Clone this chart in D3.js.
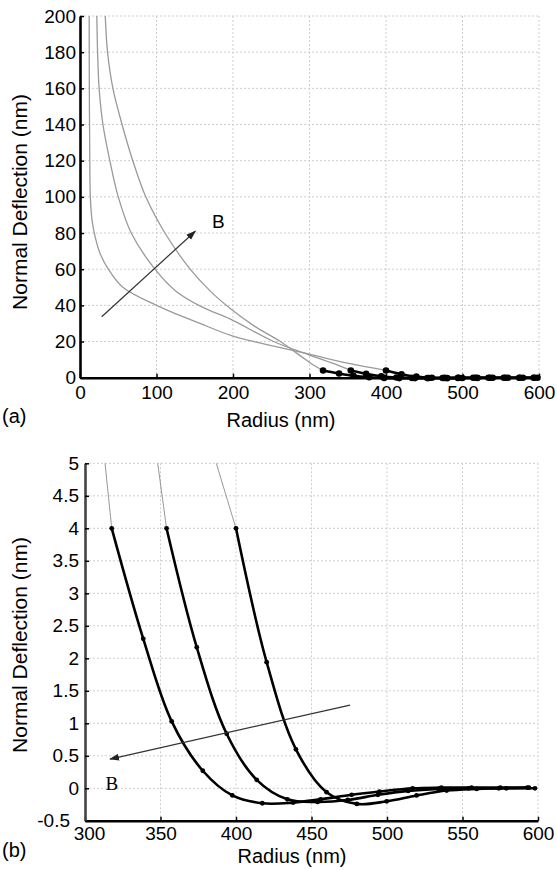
<!DOCTYPE html>
<html>
<head>
<meta charset="utf-8">
<script src="https://cdn.jsdelivr.net/npm/d3@7"></script>
<style>
body{margin:0;background:#fff;}
svg{display:block;font-family:"Liberation Sans",Arial,sans-serif;}
</style>
</head>
<body>
<script>
// gray simulated profiles (radius nm, deflection nm)
var g1R = [12, 12.3, 12.8, 13.5, 15.5, 18.7, 26, 37, 56, 100, 157, 200, 250, 300, 350, 400];
var g1V = [200, 150, 120, 100, 88, 80, 69, 60, 50, 40, 30, 23, 17.8, 13, 8, 4];
var g2R = [22, 23, 25, 30, 39, 50, 67, 98, 125, 160, 196, 253, 300, 330, 354];
var g2V = [200, 180, 160, 140, 120, 100, 80, 60, 48, 39, 32.5, 20, 12.5, 8, 4];
var g3R = [33, 36, 43, 55, 69, 86, 111, 144, 170, 196, 228, 262, 290, 305, 317.7];
var g3V = [200, 180, 160, 140, 120, 100, 80, 60, 48, 38.4, 28.5, 20, 11.5, 7, 4];

// black measured profiles with markers
var aR = [317.7, 338.6, 357.4, 378, 397.6, 417.4, 437.9, 456, 476.6, 495, 517, 536, 556, 575, 593];
var aV = [4, 2.3, 1.03, 0.27, -0.11, -0.23, -0.22, -0.17, -0.1, -0.05, 0, 0.01, 0.01, 0.01, 0.01];
var bR = [354, 374, 393.8, 413.7, 434, 454, 474, 494, 514, 534, 554, 574, 594];
var bV = [4, 2.17, 0.84, 0.13, -0.17, -0.21, -0.18, -0.1, -0.04, -0.01, 0, 0, 0.01];
var cR = [400, 420.3, 439.7, 460, 480, 499.8, 519.6, 539.5, 559.4, 579, 598];
var cV = [4, 1.94, 0.6, -0.06, -0.24, -0.2, -0.11, -0.035, -0.01, 0, 0];

var xTicksA = [0, 100, 200, 300, 400, 500, 600];
var yTicksA = [0, 20, 40, 60, 80, 100, 120, 140, 160, 180, 200];
var xTicksB = [300, 350, 400, 450, 500, 550, 600];
var yTicksB = [-0.5, 0, 0.5, 1, 1.5, 2, 2.5, 3, 3.5, 4, 4.5, 5];

var grayCurves = [[g1R, g1V], [g2R, g2V], [g3R, g3V]];
var blackCurves = [[aR, aV], [bR, bV], [cR, cV]];

function pts(pair){
    return pair[0].map(function(r, i){ return {r: r, v: pair[1][i]}; });
}

var svg = d3.select("body").append("svg").attr("width", 557).attr("height", 870);

var defs = svg.append("defs");
defs.append("marker").attr("id", "head")
    .attr("viewBox", "0 0 10 10").attr("refX", 9).attr("refY", 5)
    .attr("markerWidth", 10).attr("markerHeight", 10)
    .attr("markerUnits", "userSpaceOnUse")
    .attr("orient", "auto")
  .append("path").attr("d", "M0,1.5L10,5L0,8.5Z").attr("fill", "#222");

function drawPanel(opt){
    var x = d3.scaleLinear().domain(opt.xDom).range([opt.left, opt.right]);
    var y = d3.scaleLinear().domain(opt.yDom).range([opt.bottom, opt.top]);
    var g = svg.append("g");

    defs.append("clipPath").attr("id", "clip-" + opt.id)
      .append("rect").attr("x", opt.left).attr("y", opt.top)
      .attr("width", opt.right - opt.left).attr("height", opt.bottom - opt.top);

    // grid
    g.append("g").selectAll("line").data(opt.xTicks.slice(1)).enter().append("line")
        .attr("x1", function(d){ return x(d); }).attr("x2", function(d){ return x(d); })
        .attr("y1", opt.top).attr("y2", opt.bottom)
        .attr("stroke", "#cdcdcd").attr("stroke-width", 1).attr("stroke-dasharray", "2,2");
    g.append("g").selectAll("line").data(opt.yTicks.slice(1)).enter().append("line")
        .attr("y1", function(d){ return y(d); }).attr("y2", function(d){ return y(d); })
        .attr("x1", opt.left).attr("x2", opt.right)
        .attr("stroke", "#cdcdcd").attr("stroke-width", 1).attr("stroke-dasharray", "2,2");

    var line = d3.line().x(function(d){ return x(d.r); }).y(function(d){ return y(d.v); });

    // gray curves
    g.append("g").attr("clip-path", "url(#clip-" + opt.id + ")")
      .selectAll("path").data(grayCurves).enter().append("path")
        .attr("d", function(d){ return line.curve(d3.curveCatmullRom.alpha(0.5))(pts(d)); })
        .attr("fill", "none").attr("stroke", opt.grayColor).attr("stroke-width", opt.grayWidth);

    // black curves
    var bg = g.append("g");
    blackCurves.forEach(function(c){
        var p = pts(c);
        bg.append("path").attr("d", line.curve(d3.curveCatmullRom)(p))
            .attr("fill", "none").attr("stroke", "#000").attr("stroke-width", opt.blackWidth);
        bg.selectAll(null).data(p).enter().append("circle")
            .attr("cx", function(d){ return x(d.r); }).attr("cy", function(d){ return y(d.v); })
            .attr("r", opt.dotR).attr("fill", "#000");
    });

    // axes
    var xAxis = d3.axisBottom(x).tickValues(opt.xTicks).tickSizeInner(-4).tickSizeOuter(0).tickPadding(opt.xPad)
        .tickFormat(function(d){ return d; });
    var yAxis = d3.axisLeft(y).tickValues(opt.yTicks).tickSizeInner(-4).tickSizeOuter(0).tickPadding(opt.yPad)
        .tickFormat(function(d){ return d; });
    var xa = g.append("g").attr("transform", "translate(0," + opt.bottom + ")").call(xAxis);
    var ya = g.append("g").attr("transform", "translate(" + opt.left + ",0)").call(yAxis);
    [xa, ya].forEach(function(a){
        a.selectAll("text").attr("font-size", 19).attr("fill", "#000")
            .attr("font-family", "Liberation Sans, Arial, sans-serif");
        a.selectAll(".tick line").attr("stroke", "#000").attr("stroke-width", 1.5);
    });
    xa.select(".domain").attr("stroke", "#000").attr("stroke-width", 2.6);
    ya.select(".domain").attr("stroke", opt.yAxisColor).attr("stroke-width", 2.6);

    // corner labels sit apart, as in the figure
    if(opt.id == "b"){
        ya.selectAll(".tick text").filter(function(d){ return d == -0.5; }).attr("dx", -9);
        xa.selectAll(".tick text").filter(function(d){ return d == 300; }).attr("dx", 4);
    }

    // arrow and label
    g.append("line")
        .attr("x1", x(opt.arrow[0])).attr("y1", y(opt.arrow[1]))
        .attr("x2", x(opt.arrow[2])).attr("y2", y(opt.arrow[3]))
        .attr("stroke", "#333").attr("stroke-width", 1.2).attr("marker-end", "url(#head)");
    g.append("text").attr("x", x(opt.bPos[0])).attr("y", y(opt.bPos[1]))
        .attr("text-anchor", "middle").attr("dy", "0.35em")
        .attr("font-size", 19).attr("font-family", opt.bFont).text("B");

    // axis titles
    g.append("text").attr("x", opt.xTitle[0]).attr("y", opt.xTitle[1])
        .attr("text-anchor", "middle").attr("font-size", 20).text("Radius (nm)");
    g.append("text").attr("transform", "translate(27," + opt.yTitleY + ") rotate(-90)")
        .attr("text-anchor", "middle").attr("font-size", 21).text("Normal Deflection (nm)");
    g.append("text").attr("x", 2).attr("y", opt.panelY).attr("font-size", 20).text(opt.panel);
}

drawPanel({
    id: "a", xDom: [0, 600], yDom: [0, 200],
    left: 80, right: 539, top: 16, bottom: 377.7,
    xTicks: xTicksA, yTicks: yTicksA, xPad: 8, yPad: 4,
    grayColor: "#9a9a9a", grayWidth: 1.3, blackWidth: 2.6, dotR: 3.3,
    yAxisColor: "#000",
    arrow: [28.4, 33.7, 150.7, 81], bPos: [181, 86.3], bFont: "Liberation Sans, Arial, sans-serif",
    xTitle: [281, 427], yTitleY: 202, panel: "(a)", panelY: 423
});

drawPanel({
    id: "b", xDom: [300, 600], yDom: [-0.5, 5],
    left: 85, right: 538, top: 463.3, bottom: 820.8,
    xTicks: xTicksB, yTicks: yTicksB, xPad: 6, yPad: 6,
    grayColor: "#8a8a8a", grayWidth: 0.9, blackWidth: 2.6, dotR: 2.4,
    yAxisColor: "#444",
    arrow: [475.5, 1.28, 316.6, 0.45], bPos: [317.7, 0.07], bFont: "Liberation Serif, Times New Roman, serif",
    xTitle: [292, 863], yTitleY: 645, panel: "(b)", panelY: 857
});
</script>
</body>
</html>
